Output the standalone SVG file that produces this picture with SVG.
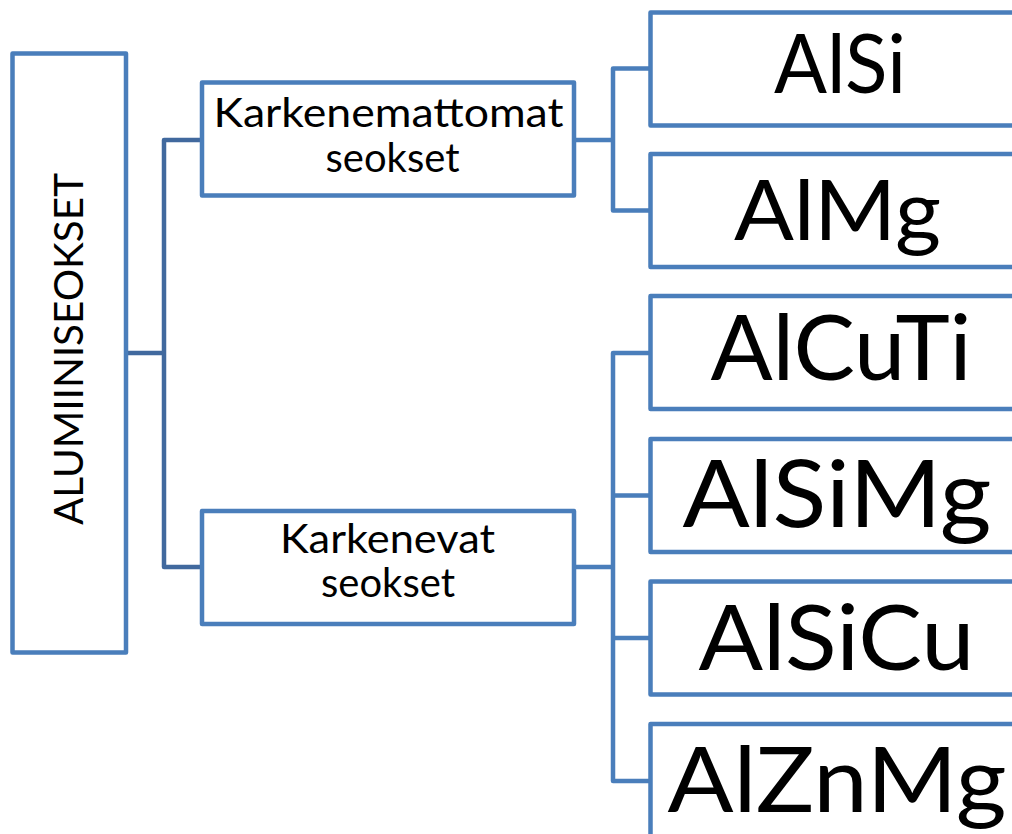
<svg xmlns="http://www.w3.org/2000/svg" width="1012" height="834" viewBox="0 0 1012 834">
<style>
.box{fill:#fff;stroke:#4A7EBB;stroke-width:4.5;stroke-linejoin:round}
.conn{fill:none;stroke:#4A7EBB;stroke-width:4.5;stroke-linejoin:round}
.conn.dark{stroke:#41699E}
.s{font-family:Lato,"Open Sans",sans-serif;font-size:40px;fill:#000;text-anchor:middle}
.b{font-family:Lato,"Open Sans",sans-serif;fill:#000;text-anchor:middle}
</style>
<rect width="1012" height="834" fill="#fff"/>
<g id="connectors">
<path class="conn dark" d="M126,353 H164 M202,140 H164 V567 H202"/>
<path class="conn" d="M574,140 H613 M650,68.5 H613 V210.5 H650"/>
<path class="conn" d="M574,567 H613 M650,353 H613 V781 H650 M613,495.5 H650 M613,638 H650"/>
</g>
<g id="root">
<rect class="box" x="12.5" y="53.5" width="113.5" height="599"/>
<text class="s" transform="translate(83,349) rotate(-90)" x="0" y="0" textLength="352" lengthAdjust="spacingAndGlyphs">ALUMIINISEOKSET</text>
</g>
<g id="karkenemattomat">
<rect class="box" x="202" y="82.5" width="372" height="113"/>
<text class="s" x="388.5" y="127" textLength="350" lengthAdjust="spacingAndGlyphs">Karkenemattomat</text>
<text class="s" x="392.5" y="172" textLength="134" lengthAdjust="spacingAndGlyphs">seokset</text>
</g>
<g id="karkenevat">
<rect class="box" x="202" y="511" width="372" height="113"/>
<text class="s" x="387.5" y="553" textLength="215" lengthAdjust="spacingAndGlyphs">Karkenevat</text>
<text class="s" x="388" y="597" textLength="134" lengthAdjust="spacingAndGlyphs">seokset</text>
</g>
<g id="alsi">
<rect class="box" x="650.5" y="12.5" width="374" height="113"/>
<text class="b" x="840" y="93" font-size="81" textLength="132" lengthAdjust="spacingAndGlyphs">AlSi</text>
</g>
<g id="almg">
<rect class="box" x="650.5" y="154" width="374" height="113"/>
<text class="b" x="837.5" y="240" font-size="84" textLength="207" lengthAdjust="spacingAndGlyphs">AlMg</text>
</g>
<g id="alcuti">
<rect class="box" x="650.5" y="296" width="374" height="113"/>
<text class="b" x="841" y="380" font-size="91" textLength="261" lengthAdjust="spacingAndGlyphs">AlCuTi</text>
</g>
<g id="alsimg">
<rect class="box" x="650.5" y="439" width="374" height="113"/>
<text class="b" x="837" y="527" font-size="93" textLength="309" lengthAdjust="spacingAndGlyphs">AlSiMg</text>
</g>
<g id="alsicu">
<rect class="box" x="650.5" y="581.5" width="374" height="113"/>
<text class="b" x="836.5" y="670" font-size="91" textLength="276" lengthAdjust="spacingAndGlyphs">AlSiCu</text>
</g>
<g id="alznmg">
<rect class="box" x="650.5" y="724" width="374" height="113"/>
<text class="b" x="837" y="812" font-size="91" textLength="339" lengthAdjust="spacingAndGlyphs">AlZnMg</text>
</g>
</svg>
